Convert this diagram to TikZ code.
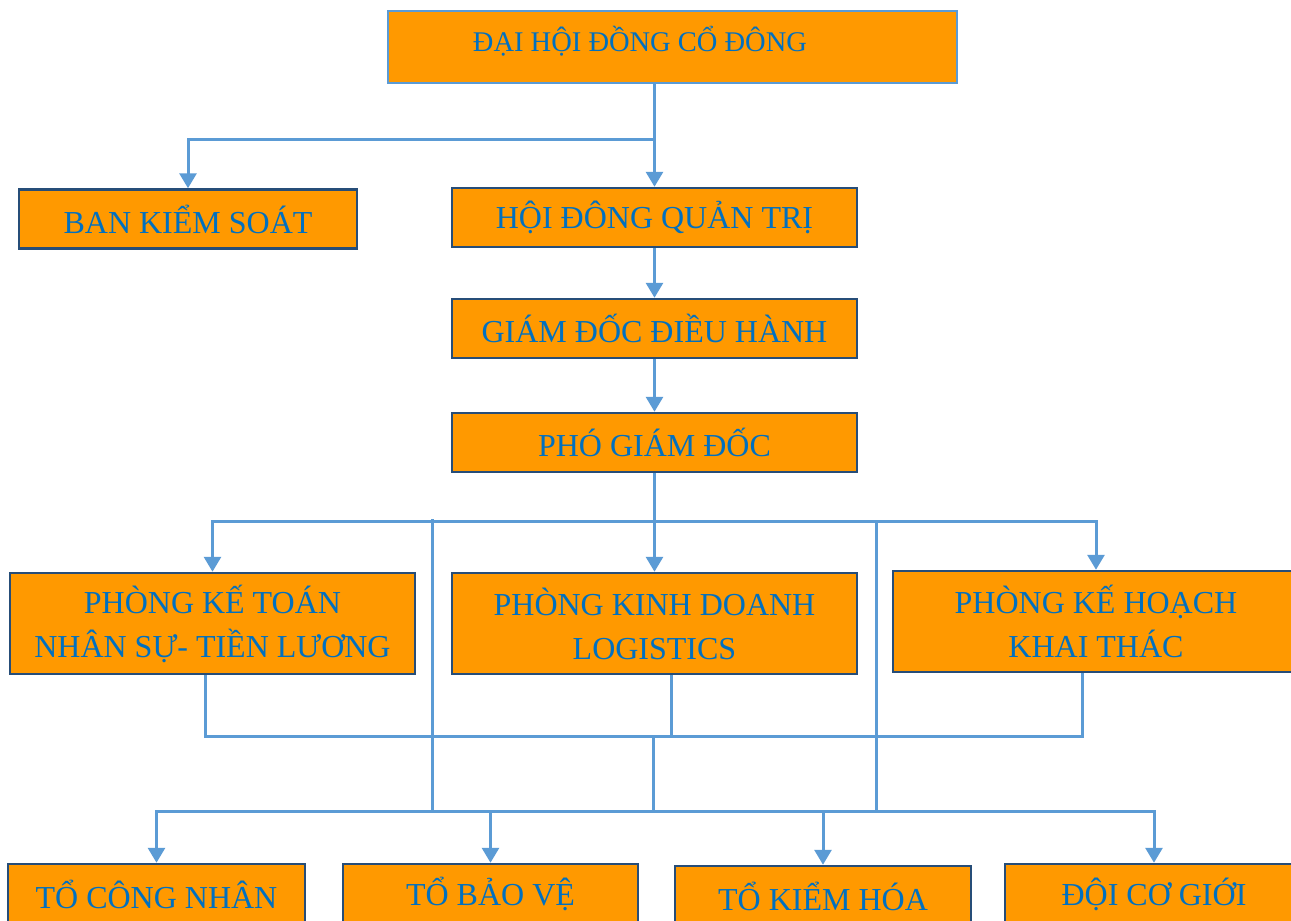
\documentclass[tikz,border=0pt]{standalone}
\usepackage{fontspec}
\setmainfont{Liberation Serif}
\usetikzlibrary{arrows.meta}
\definecolor{boxfill}{HTML}{FF9900}
\definecolor{txtblue}{HTML}{0070C0}
\definecolor{linblue}{HTML}{5B9BD5}
\definecolor{edgeblue}{HTML}{264D78}
\tikzset{
  orgbox/.style={draw=edgeblue, line width=2.5pt, fill=boxfill, text=txtblue,
    inner sep=0pt, align=center, font=\fontsize{32}{44}\selectfont},
  conn/.style={draw=linblue, line width=3pt},
  arr/.style={conn, -{Triangle[width=17pt,length=15pt]}}
}
\begin{document}
\begin{tikzpicture}[x=1pt,y=-1pt]
\useasboundingbox (0,0) rectangle (1291,921);
\clip (0,0) rectangle (1291,921);
\fill[white] (0,0) rectangle (1291,921);
% boxes
\node[orgbox, draw=linblue, minimum width=569pt, minimum height=72pt] (dh) at (672.5,47) {};
\node[text=txtblue, inner sep=0pt, font=\fontsize{28.5}{40}\selectfont] (dht) at (640,41) {ĐẠI HỘI ĐỒNG CỔ ĐÔNG};
\node[orgbox, minimum width=338pt, minimum height=59pt] (bks) at (188,219) {BAN KIỂM SOÁT};
\node[orgbox, minimum width=405pt, minimum height=59pt] (hd) at (654.5,217.5) {HỘI ĐÔNG QUẢN TRỊ};
\node[orgbox, minimum width=405pt, minimum height=59pt] (gd) at (654.5,328.5) {GIÁM ĐỐC ĐIỀU HÀNH};
\node[orgbox, minimum width=405pt, minimum height=59pt] (pgd) at (654.5,442.5) {PHÓ GIÁM ĐỐC};
\node[orgbox, minimum width=405pt, minimum height=101pt] (pkt) at (212.5,623.5) {PHÒNG KẾ TOÁN\\NHÂN SỰ- TIỀN LƯƠNG};
\node[orgbox, minimum width=405pt, minimum height=101pt] (pkd) at (654.5,623.5) {PHÒNG KINH DOANH\\LOGISTICS};
\node[orgbox, minimum width=406pt, minimum height=101pt] (pkh) at (1096,621.5) {PHÒNG KẾ HOẠCH\\KHAI THÁC};
\node[orgbox, minimum width=297pt, minimum height=60pt] (tcn) at (156.5,894) {TỔ CÔNG NHÂN};
\node[orgbox, minimum width=295pt, minimum height=60pt] (tbv) at (490.5,894) {TỔ BẢO VỆ};
\node[orgbox, minimum width=296pt, minimum height=60pt] (tkh) at (823,896) {TỔ KIỂM HÓA};
\node[orgbox, minimum width=298pt, minimum height=60pt] (dcg) at (1154,894) {ĐỘI CƠ GIỚI};
% junction coordinates
\coordinate (j1) at (654.5,139);
\coordinate (j2) at (654.5,521);
\coordinate (va1) at (432,519);
\coordinate (va2) at (432,811);
\coordinate (vb1) at (876,521);
\coordinate (vb2) at (876,811);
\coordinate (lb) at (653,736);
\coordinate (bb) at (653,811);
% connectors
\draw[arr] (hd.north |- dh.south) -- (hd.north);
\draw[arr] (j1) -| (bks.north);
\draw[arr] (hd.south) -- (gd.north);
\draw[arr] (gd.south) -- (pgd.north);
\draw[arr] (pgd.south) -- (pkd.north);
\draw[arr] (j2) -| (pkt.north);
\draw[arr] (j2) -| (pkh.north);
\draw[conn] (va1) -- (va2);
\draw[conn] (vb1) -- (vb2);
\draw[conn] ([xshift=-7.5pt]pkt.south) |- (lb) -| ([xshift=-14pt]pkh.south);
\draw[conn] ([xshift=16.5pt]pkd.south) -- ([xshift=16.5pt]pkd.south |- lb);
\draw[conn] (lb) -- (bb);
\draw[arr] (bb) -| (tcn.north);
\draw[arr] (bb) -| (tbv.north);
\draw[arr] (bb) -| (tkh.north);
\draw[arr] (bb) -| (dcg.north);
\end{tikzpicture}
\end{document}
